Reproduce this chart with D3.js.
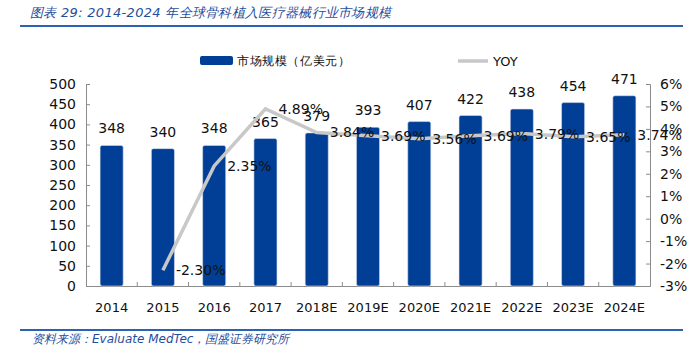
<!DOCTYPE html>
<html>
<head>
<meta charset="utf-8">
<script src="https://cdn.jsdelivr.net/npm/d3@7"></script>
<style>
  body { margin: 0; background: #fff; }
  svg { display: block; font-family: "DejaVu Sans", Verdana, sans-serif; }
</style>
</head>
<body>
<div class="chart"></div>
<script>
// data
const years = ["2014","2015","2016","2017","2018E","2019E","2020E","2021E","2022E","2023E","2024E"]
const marketSize = [348,340,348,365,379,393,407,422,438,454,471]
const yoy = [null,-2.30,2.35,4.89,3.84,3.69,3.56,3.69,3.79,3.65,3.74]
const leftTicks = [0,50,100,150,200,250,300,350,400,450,500]
const rightTicks = [-3,-2,-1,0,1,2,3,4,5,6]

const width = 694, height = 354
const margin = {top:84, right:44, bottom:68, left:86}
const barColour = "#003f95"
const lineColour = "#c8c8c8"
const blue = "#1f4e9c"

const svg = d3.select(".chart").append("svg").attr("width",width).attr("height",height)

// title + rules
svg.append("text").attr("x",30).attr("y",17).text("图表 29:  2014-2024 年全球骨科植入医疗器械行业市场规模")
   .attr("fill",blue).attr("font-size",13).attr("font-style","italic").attr("letter-spacing",0.3)
svg.append("line").attr("x1",20).attr("x2",683).attr("y1",26).attr("y2",26).attr("stroke","#2a62b5").attr("stroke-width",2)
svg.append("line").attr("x1",20).attr("x2",683).attr("y1",330).attr("y2",330).attr("stroke","#2a62b5").attr("stroke-width",2)
svg.append("text").attr("x",32).attr("y",343).text("资料来源：Evaluate MedTec，国盛证券研究所")
   .attr("fill",blue).attr("font-size",12).attr("font-style","italic")

const x = d3.scaleBand().domain(years).range([margin.left, width-margin.right]).paddingInner(0.55).paddingOuter(0.275)
const y = d3.scaleLinear().domain([0,500]).range([height-margin.bottom, margin.top])
const y2 = d3.scaleLinear().domain([-3,6]).range([height-margin.bottom, margin.top])

// axes
const axisColour = "#8c8c8c"
const gL = svg.append("g").attr("transform",`translate(${margin.left},0)`)
  .call(d3.axisLeft(y).tickValues(leftTicks).tickSize(-4).tickPadding(10))
const gR = svg.append("g").attr("transform",`translate(${width-margin.right},0)`)
  .call(d3.axisRight(y2).tickValues(rightTicks).tickSize(-4).tickPadding(10).tickFormat(d=>d+"%"))
const gB = svg.append("g").attr("transform",`translate(0,${height-margin.bottom})`)
  .call(d3.axisBottom(x).tickSize(0).tickPadding(17))
gB.selectAll(".tick line").remove()
// category separators pointing up
const step = x.step()
gB.selectAll(".sep").data(years.slice(1)).enter().append("line")
  .attr("x1",d=>x(d)-(step-x.bandwidth())/2).attr("x2",d=>x(d)-(step-x.bandwidth())/2)
  .attr("y1",0).attr("y2",-4).attr("stroke",axisColour)
;[gL,gR,gB].forEach(g=>{
  g.selectAll("path, line").attr("stroke",axisColour)
  g.selectAll("text").attr("font-size",14).attr("fill","#111").attr("font-family","\"DejaVu Sans\", Verdana, sans-serif")
})
gB.selectAll(".tick text").attr("font-size",13)

// bars
svg.selectAll(".bar").data(marketSize).enter().append("rect").attr("class","bar")
  .attr("x",(d,i)=>x(years[i])).attr("width",x.bandwidth())
  .attr("y",d=>y(d)).attr("height",d=>y(0)-y(d))
  .attr("rx",2).attr("fill",barColour).attr("stroke","#d6def0").attr("stroke-width",0.6)

svg.selectAll(".barlab").data(marketSize).enter().append("text")
  .attr("x",(d,i)=>x(years[i])+x.bandwidth()/2).attr("y",d=>y(d)-12)
  .attr("text-anchor","middle").attr("font-size",14).attr("fill","#111").text(d=>d)

// YOY line
const pts = yoy.map((v,i)=>({v, yr:years[i]})).filter(d=>d.v!==null)
const line = d3.line().x(d=>x(d.yr)+x.bandwidth()/2).y(d=>y2(d.v))
svg.append("path").datum(pts).attr("d",line).attr("fill","none")
  .attr("stroke",lineColour).attr("stroke-width",3.5)

svg.selectAll(".yoylab").data(pts).enter().append("text")
  .attr("x",d=>x(d.yr)+x.bandwidth()/2+13).attr("y",d=>y2(d.v)+5)
  .attr("font-size",14).attr("fill","#111").text(d=>d.v.toFixed(2)+"%")

// legend
svg.append("rect").attr("x",200).attr("y",56).attr("width",33).attr("height",9).attr("rx",2).attr("fill",barColour)
svg.append("text").attr("x",237).attr("y",65).text("市场规模（亿美元）").attr("font-size",12).attr("letter-spacing",0.6).attr("fill","#111")
svg.append("line").attr("x1",458).attr("x2",488).attr("y1",61).attr("y2",61).attr("stroke",lineColour).attr("stroke-width",3.5)
svg.append("text").attr("x",493).attr("y",66).text("YOY").attr("font-size",13).attr("fill","#111")
</script>
</body>
</html>
